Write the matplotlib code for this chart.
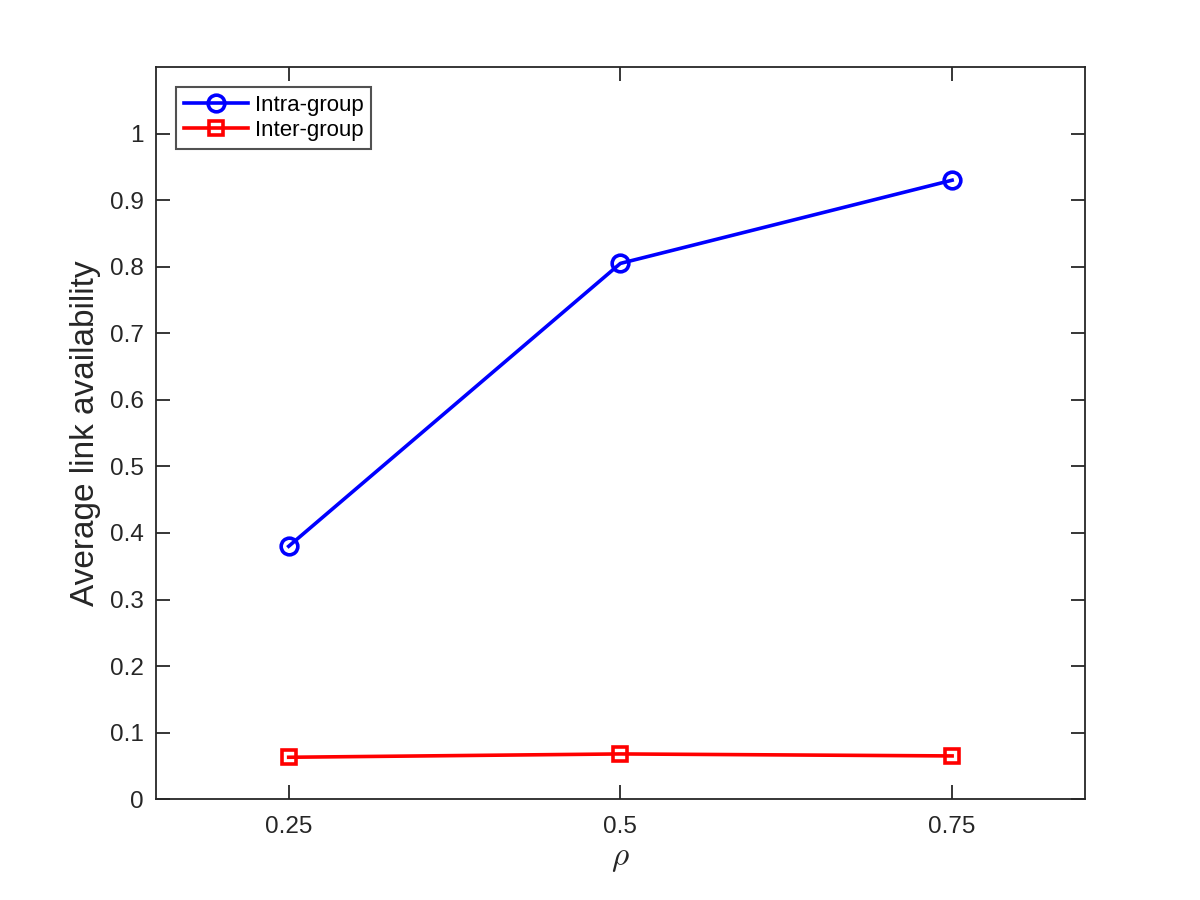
import numpy as np
from matplotlib import pyplot as plt

plt.rcParams['font.family'] = ['Liberation Sans', 'DejaVu Sans']
plt.rcParams['mathtext.fontset'] = 'cm'

rho = [0.25, 0.5, 0.75]
intra_group = [0.38, 0.805, 0.93]
inter_group = [0.063, 0.068, 0.065]
x_ticks = [0.25, 0.5, 0.75]
x_tick_labels = ['0.25', '0.5', '0.75']
y_ticks = [0, 0.1, 0.2, 0.3, 0.4, 0.5, 0.6, 0.7, 0.8, 0.9, 1]
y_tick_labels = ['0', '0.1', '0.2', '0.3', '0.4', '0.5', '0.6', '0.7', '0.8', '0.9', '1']

fig = plt.figure(figsize=(12, 9), dpi=100)
ax = fig.add_axes([0.13, 0.112, 0.774, 0.8135])

ax.plot(rho, intra_group, color='#0000ff', linewidth=2.6, marker='o',
	markersize=12, markerfacecolor='none', markeredgewidth=2.6, label='Intra-group')
ax.plot(rho, inter_group, color='#ff0000', linewidth=2.6, marker='s',
	markersize=10, markerfacecolor='none', markeredgewidth=2.6, label='Inter-group')

ax.set_xlim(0.15, 0.85)
ax.set_ylim(0, 1.1)
ax.set_xticks(x_ticks)
ax.set_xticklabels(x_tick_labels)
ax.set_yticks(y_ticks)
ax.set_yticklabels(y_tick_labels)
ax.tick_params(direction='in', length=10, width=1.3, top=True, right=True,
	labelsize=17.5, colors='#262626')
ax.tick_params(axis='x', pad=12)
ax.tick_params(axis='y', pad=9)
for s in ax.spines.values():
	s.set_linewidth(1.3)
	s.set_color('#262626')

ax.set_xlabel(r'$\rho$', fontsize=24, color='#262626', labelpad=4)
ax.set_ylabel('Average link availability', fontsize=24, color='#262626', labelpad=6)

leg = ax.legend(loc='upper left', fontsize=16, frameon=True, fancybox=False,
	edgecolor='#262626', handlelength=2.9, borderaxespad=0.9, borderpad=0.35,
	labelspacing=0.2, handletextpad=0.3, bbox_to_anchor=(0.0, 1.0))
leg.get_frame().set_linewidth(1.5)

plt.savefig('out.png', dpi=100)
